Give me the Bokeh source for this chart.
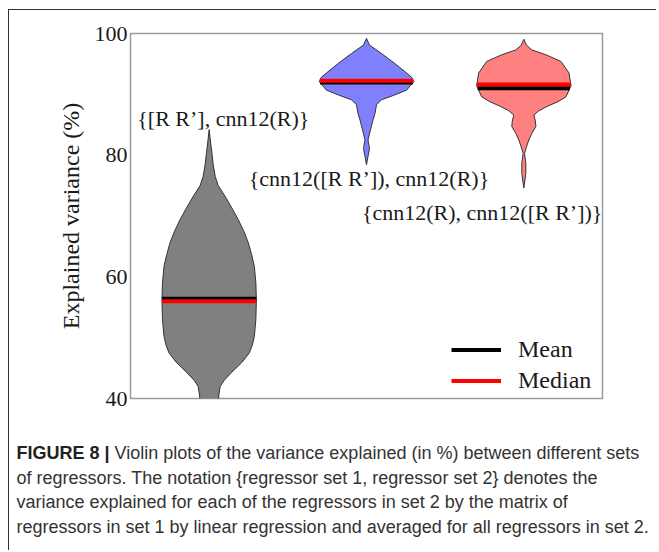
import html
import numpy as np
from bokeh.plotting import figure
from bokeh.layouts import column
from bokeh.models import (Range1d, FixedTicker, Label, Legend, LegendItem, ColumnDataSource, Div)
from bokeh.embed import file_html
from bokeh.resources import INLINE

# ---------------- data ----------------
positions = [1, 2, 3]
set_names = ["{[R R’], cnn12(R)}", "{cnn12([R R’]), cnn12(R)}", "{cnn12(R), cnn12([R R’])}"]
fill_colors = ["#808080", "#8080ff", "#ff8080"]

v1_values = [39.0, 40.4, 42.0, 43.0, 44.3, 46.0, 47.5, 48.8, 50.2, 53.0, 56.2, 59.0, 61.7,
             63.5, 65.6, 67.5, 69.4, 71.5, 73.2, 75.0, 76.5, 78.5, 80.4, 82.0, 84.2]
v1_density = [9, 9.5, 11, 15, 22.5, 33, 40, 43, 45, 46.5, 47, 46.5, 45,
              42.5, 39, 34.5, 29, 22, 16, 9, 6, 4, 2.7, 1.5, 0]

v2_values = [78.4, 79.8, 81.1, 82.5, 84.2, 85.8, 86.9, 88.3, 89.1, 89.9, 90.7, 92.1,
             92.8, 93.5, 95.1, 96.7, 98.1, 99.2]
v2_density = [0, 1.5, 3, 1.5, 4, 6.5, 8.5, 10, 15, 28, 40, 47,
              45, 40, 28, 15, 3, 0]

v3_values = [74.6, 77.0, 78.7, 80.3, 81.4, 82.5, 83.6, 84.7, 85.6, 86.6, 87.3, 88.0,
             88.8, 89.6, 91.4, 93.5, 95.4, 96.5, 97.3, 98.1, 99.05]
v3_density = [0, 2, 2, 0.7, 2.7, 5, 8, 12, 11.5, 10, 15, 23,
              34, 42, 47, 45, 37, 22, 8, 2.5, 0]

means = [56.4, 91.95, 91.0]
medians = [56.0, 92.25, 91.6]

y_ticks = [40, 60, 80, 100]
y_tick_labels = ["40", "60", "80", "100"]

label_x = [1.09, 2.016, 2.735]
label_y = [85.96, 76.1, 70.5]

legend_labels = ["Mean", "Median"]

caption_bold = "FIGURE 8 |"
caption_lines = [
    "Violin plots of the variance explained (in %) between different sets",
    "of regressors. The notation {regressor set 1, regressor set 2} denotes the",
    "variance explained for each of the regressors in set 2 by the matrix of",
    "regressors in set 1 by linear regression and averaged for all regressors in set 2.",
]

# ---------------- chart figure ----------------
HALF_WIDTH = 0.3
SERIF = "Liberation Serif"
W = 647

p = figure(width=W, height=400, output_backend="svg", toolbar_location=None,
           x_range=Range1d(0.5, 3.5), y_range=Range1d(40, 100),
           x_axis_location=None,
           min_border_left=121, min_border_right=54, min_border_top=23, min_border_bottom=12,
           background_fill_color="white", border_fill_color="white",
           outline_line_color="#9a9a9a", outline_line_width=1.5)
p.grid.visible = False

ax = p.yaxis[0]
ax.ticker = FixedTicker(ticks=y_ticks)
ax.major_label_overrides = {t: l for t, l in zip(y_ticks, y_tick_labels)}
ax.major_tick_line_color = None
ax.minor_tick_line_color = None
ax.major_tick_out = 0
ax.major_tick_in = 0
ax.minor_tick_out = 0
ax.axis_line_color = None
ax.major_label_standoff = 3
ax.major_label_text_font = SERIF
ax.major_label_text_font_size = "22px"
ax.major_label_text_color = "#1a1a1a"
ax.axis_label = "Explained variance (%)"
ax.axis_label_text_font = SERIF
ax.axis_label_text_font_size = "24px"
ax.axis_label_text_font_style = "normal"
ax.axis_label_text_color = "#1a1a1a"
ax.axis_label_standoff = 8

profiles = [(v1_values, v1_density), (v2_values, v2_density), (v3_values, v3_density)]
xs, ys = [], []
mean_x0, mean_x1, med_x0, med_x1 = [], [], [], []
for pos, (vals, dens), m, md in zip(positions, profiles, means, medians):
    vals = np.asarray(vals, float)
    dens = np.asarray(dens, float)
    w = dens / dens.max() * HALF_WIDTH
    xs.append(list(pos + w) + list((pos - w)[::-1]))
    ys.append(list(vals) + list(vals[::-1]))
    wm = float(np.interp(m, vals, w))
    wd = float(np.interp(md, vals, w))
    mean_x0.append(pos - wm); mean_x1.append(pos + wm)
    med_x0.append(pos - wd); med_x1.append(pos + wd)

vsrc = ColumnDataSource(dict(xs=xs, ys=ys, color=fill_colors))
p.patches("xs", "ys", source=vsrc, fill_color="color", fill_alpha=1.0,
          line_color="#333333", line_width=1)

msrc = ColumnDataSource(dict(x0=mean_x0, x1=mean_x1, y=means))
dsrc = ColumnDataSource(dict(x0=med_x0, x1=med_x1, y=medians))
mean_r = p.segment(x0="x0", y0="y", x1="x1", y1="y", source=msrc,
                   line_color="black", line_width=4)
med_r = p.segment(x0="x0", y0="y", x1="x1", y1="y", source=dsrc,
                  line_color="#ff0000", line_width=4)

for name, lx, ly in zip(set_names, label_x, label_y):
    p.add_layout(Label(x=lx, y=ly, text=name, text_align="center", text_baseline="middle",
                       text_font=SERIF, text_font_size="22px", text_color="#1a1a1a"))

legend = Legend(items=[LegendItem(label=legend_labels[0], renderers=[mean_r]),
                       LegendItem(label=legend_labels[1], renderers=[med_r])],
                location=(321, 2), border_line_color=None, background_fill_alpha=0,
                padding=0, margin=0, spacing=0, glyph_width=50, glyph_height=31,
                label_standoff=17, label_height=31,
                label_text_font=SERIF, label_text_font_size="24px",
                label_text_color="#1a1a1a")
p.add_layout(legend)

# ---------------- caption ----------------
first = ('<b style="color:#222222">' + html.escape(caption_bold) + '</b> '
         + html.escape(caption_lines[0]))
rest = [html.escape(t) for t in caption_lines[1:]]
cap_html = ('<div style="font-family:\'Liberation Sans\',Arial,sans-serif;font-size:18px;'
            'line-height:24.7px;color:#333333;white-space:nowrap;'
            'padding-top:31px;padding-left:7.5px;">'
            + "<br>".join([first] + rest) + "</div>")
cap = Div(text=cap_html, width=W, height=140, margin=(0, 0, 0, 0))

layout = column(p, cap, margin=(9, 0, 0, 8),
                styles={"border-left": "1.5px solid #333333",
                        "border-top": "1.5px solid #333333"})

open("out.html", "w").write(file_html(layout, INLINE))
